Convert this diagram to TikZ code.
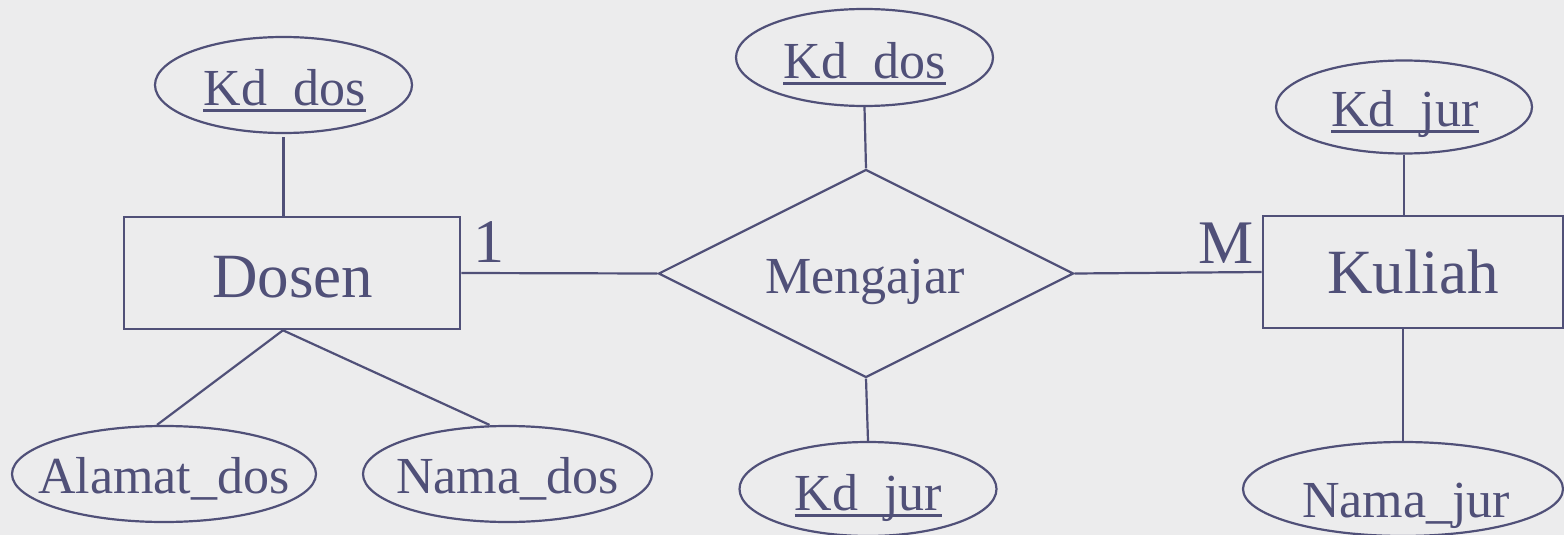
\documentclass[tikz,border=0pt]{standalone}
\usepackage{fontspec}
\setmainfont{Liberation Serif}
\usetikzlibrary{shapes.geometric,calc}
\definecolor{ink}{RGB}{80,80,120}
\definecolor{bgc}{RGB}{236,236,237}
\tikzset{
  entity/.style={draw=ink, line width=2.6pt, rectangle, inner sep=0pt},
  attr/.style={draw=ink, line width=2.2pt, ellipse, inner sep=0pt},
  rel/.style={draw=ink, line width=2.2pt, diamond, aspect=2, inner sep=0pt},
  conn/.style={draw=ink, line width=2.2pt},
  ul/.style={draw=ink, line width=2.6pt},
  attrtxt/.style={text=ink, anchor=base, inner sep=0pt, font=\fontsize{52}{60}\selectfont},
  enttxt/.style={text=ink, anchor=base, inner sep=0pt, font=\fontsize{63}{72}\selectfont},
  cardtxt/.style={text=ink, anchor=base, inner sep=0pt, font=\fontsize{62}{70}\selectfont}
}
\begin{document}
\begin{tikzpicture}[x=1pt,y=-1pt]
\fill[bgc] (0,0) rectangle (1564,535);
\useasboundingbox (0,0) rectangle (1564,535);

% entities and relationship
\node[entity, minimum width=336pt, minimum height=112pt] (dosen) at (292,273) {};
\node[entity, minimum width=300pt, minimum height=112pt] (kuliah) at (1413,272) {};
\node[rel, minimum width=415pt, minimum height=208pt] (mengajar) at (866,273.5) {};

% attributes
\node[attr, minimum width=257pt, minimum height=96pt] (kd1) at (283.5,85) {};
\node[attr, minimum width=257pt, minimum height=97pt] (kd2) at (864.5,57.5) {};
\node[attr, minimum width=257pt, minimum height=94pt] (kdj2) at (868,489) {};
\node[attr, minimum width=256pt, minimum height=93pt] (kdj1) at (1404,107) {};
\node[attr, minimum width=320pt, minimum height=94pt] (namajur) at (1403,489) {};
\node[attr, minimum width=304pt, minimum height=96pt] (alamat) at (164,474) {};
\node[attr, minimum width=289pt, minimum height=96pt] (namados) at (507.5,474) {};

% texts
\node[enttxt] (dosent) at ($(dosen.center)+(0.5,24)$) {Dosen};
\node[enttxt] (kuliaht) at ($(kuliah.center)+(0,21)$) {Kuliah};
\node[attrtxt] (mengajart) at ($(mengajar.center)+(-1,19.5)$) {Mengajar};
\node[attrtxt] (kd1t) at ($(kd1.center)+(1,20)$) {Kd\_dos};
\node[attrtxt] (kd2t) at ($(kd2.center)+(0,20.5)$) {Kd\_dos};
\node[attrtxt] (kdj2t) at ($(kdj2.center)+(0.5,21)$) {Kd\_jur};
\node[attrtxt] (kdj1t) at ($(kdj1.center)+(1,19)$) {Kd\_jur};
\node[attrtxt] (namajurt) at ($(namajur.center)+(3,28)$) {Nama\_jur};
\node[attrtxt] (alamatt) at ($(alamat.center)+(0,19)$) {Alamat\_dos};
\node[attrtxt] (namadost) at ($(namados.center)+(0,19)$) {Nama\_dos};

% key underlines
\foreach \t in {kd1t,kd2t,kdj1t,kdj2t}{
  \draw[ul] ($(\t.base west)+(0,5.5)$) -- ($(\t.base east)+(0,5.5)$);
}

% cardinalities
\node[cardtxt] (one) at (488.5,262) {1};
\node[cardtxt] (many) at (1226,263) {M};

% connectors
\coordinate (dbot) at ($(dosen.south)+(-9,0)$);
\draw[conn, shorten <=3pt] (kd1.south) -- (kd1.south |- dosen.north);
\draw[conn] (dbot) -- ($(alamat.north)+(-7,0)$);
\draw[conn] (dbot) -- ($(namados.north)+(-18,0)$);
\draw[conn] (dosen.east) -- (mengajar.west);
\draw[conn] (mengajar.east) -- (kuliah.west);
\draw[conn] (kd2.south) -- (mengajar.north);
\draw[conn] (mengajar.south) -- (kdj2.north);
\draw[conn] (kdj1.south) -- (kdj1.south |- kuliah.north);
\draw[conn] (namajur.north |- kuliah.south) -- (namajur.north);
\end{tikzpicture}
\end{document}
